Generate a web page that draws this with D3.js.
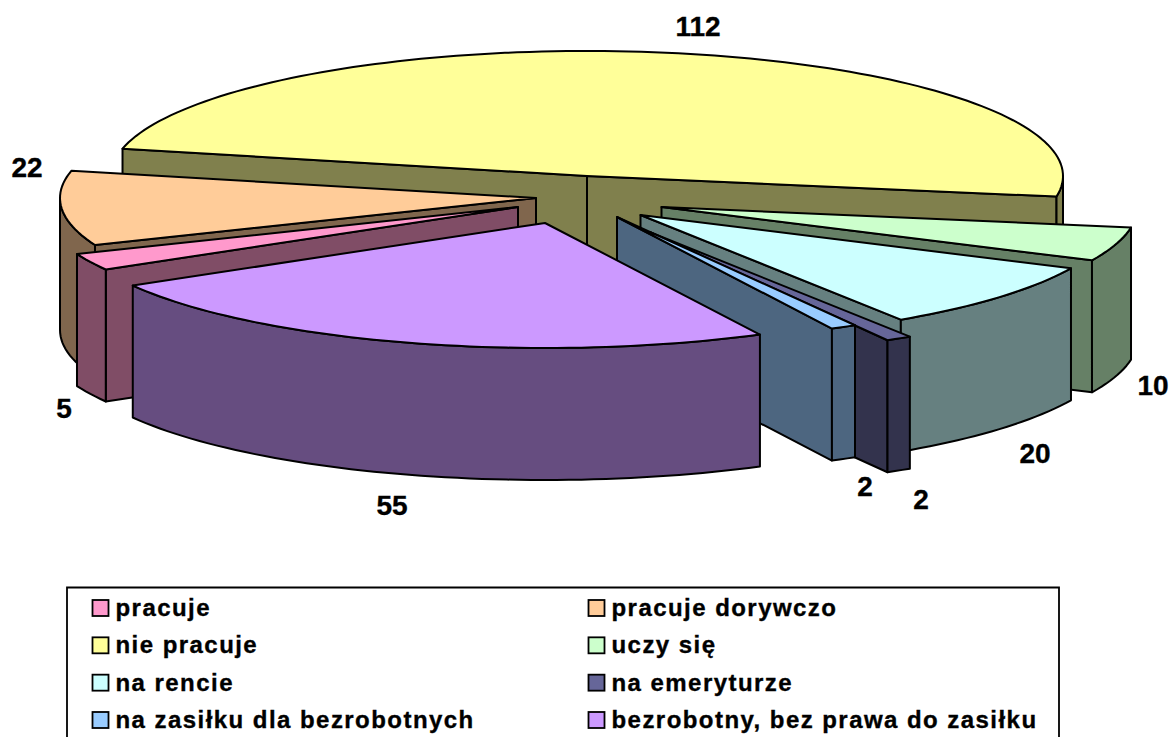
<!DOCTYPE html>
<html><head><meta charset="utf-8">
<script src="https://cdn.jsdelivr.net/npm/d3@7"></script>
<style>html,body{margin:0;padding:0;background:#fff;overflow:hidden}svg{display:block}
text{font-family:"Liberation Sans",Arial,sans-serif;font-weight:bold;fill:#000;stroke:#000;stroke-width:.35px}</style>
</head><body><svg id="c" width="1172" height="737"></svg>
<script>
const categories = ["pracuje","pracuje dorywczo","nie pracuje","uczy się","na rencie","na emeryturze","na zasiłku dla bezrobotnych","bezrobotny, bez prawa do zasiłku"];
const values = [5,22,112,10,20,2,2,55];
const colors = ["#FF99CC","#FFCC99","#FFFF99","#CCFFCC","#CCFFFF","#666699","#99CCFF","#CC99FF"];
const wallColors = ["#804D66","#80664D","#80804D","#668066","#668080","#33334D","#4D6680","#664D80"];

// layout
const apexes = [[518,207],[536,198],[587,176],[661.5,207],[640.5,215],[649.5,232],[617,217],[545,223]];
const labelPos = [[64,408],[27,167],[698,26],[1153,385],[1035,453],[921,499],[865,486],[392,505]];
const paintOrder = [2,1,3,0,4,5,6,7];
const RX = 476, RY = 125, DEPTH = 132;
const W = 1172, H = 737;

const svg = d3.select("#c");
const toRad = d => d*Math.PI/180;
const pie = d3.pie().sort(null).value(d=>d).startAngle(toRad(240)).endAngle(toRad(600));
const arcs = pie(values);
const sx = d3.scaleLinear().domain([-1,1]).range([-RX,RX]);
const sy = d3.scaleLinear().domain([-1,1]).range([-RY,RY]);
const project = (i,a,drop=0)=>[apexes[i][0]+sx(Math.sin(a)), apexes[i][1]-sy(Math.cos(a))+drop];
const line = d3.line();
const arcAngles = (a0,a1)=>{const n=Math.max(2,Math.ceil((a1-a0)/toRad(1.5)));return d3.range(n+1).map(k=>a0+(a1-a0)*k/n);};
const g = svg.append("g").attr("stroke","#000").attr("stroke-width",2).attr("stroke-linejoin","round");
const poly=(pts,fill)=>g.append("path").attr("d",line(pts)+"Z").attr("fill",fill);

paintOrder.forEach(i=>{
  const a=arcs[i], O=apexes[i], wall=wallColors[i];
  const O2=[O[0],O[1]+DEPTH];
  // cut faces that look toward the viewer
  if(Math.sin(a.startAngle)<0) poly([O,project(i,a.startAngle),project(i,a.startAngle,DEPTH),O2],wall);
  if(Math.sin(a.endAngle)>0) poly([O,project(i,a.endAngle),project(i,a.endAngle,DEPTH),O2],wall);
  // outer wall: only the part facing the viewer
  [[toRad(90),toRad(270)],[toRad(450),toRad(630)]].forEach(([lo,hi])=>{
    const s=Math.max(lo,a.startAngle), e=Math.min(hi,a.endAngle);
    if(e>s){
      const ang=arcAngles(s,e);
      poly(ang.map(t=>project(i,t)).concat(ang.slice().reverse().map(t=>project(i,t,DEPTH))),wall);
    }
  });
  // top
  poly([O].concat(arcAngles(a.startAngle,a.endAngle).map(t=>project(i,t))),colors[i]);
});

// value labels
svg.append("g").selectAll("text").data(values).join("text")
  .attr("x",(d,i)=>labelPos[i][0]).attr("y",(d,i)=>labelPos[i][1]+10)
  .attr("text-anchor","middle").attr("font-size",28).text(d=>d);

// legend
svg.append("path").attr("d",`M67,${H+3}V587.5H1059V${H+3}`).attr("fill","#fff").attr("stroke","#000").attr("stroke-width",1.8);
const legCols = d3.scaleOrdinal().domain([0,1]).range([92.5,588.5]);
const legRows = d3.scalePoint().domain(d3.range(4)).range([608,720]);
const leg = svg.append("g").selectAll("g").data(categories).join("g")
  .attr("transform",(d,i)=>`translate(${legCols(i%2)},${legRows(Math.floor(i/2))})`);
leg.append("rect").attr("x",0).attr("y",-8).attr("width",16).attr("height",16)
  .attr("fill",(d,i)=>colors[i]).attr("stroke","#000").attr("stroke-width",1.8);
leg.append("text").attr("x",23).attr("y",8).attr("font-size",24).attr("letter-spacing",1.45).text(d=>d);
</script></body></html>
